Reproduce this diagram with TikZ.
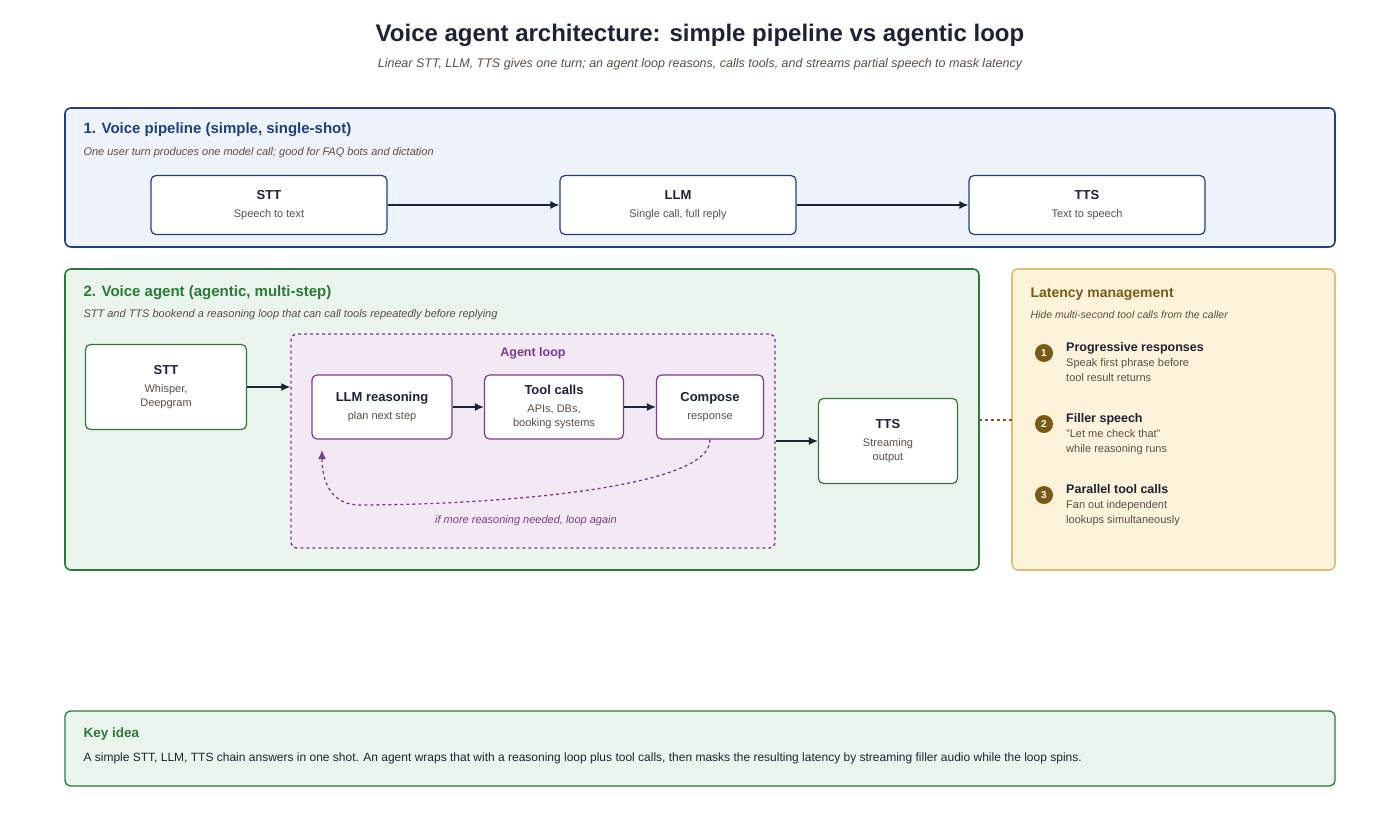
\documentclass[tikz,border=0pt]{standalone}
\usepackage{fontspec}
\setmainfont{Liberation Sans}
\usetikzlibrary{positioning,arrows.meta}
\definecolor{ink}{HTML}{1E2235}
\definecolor{muted}{HTML}{5A4E45}
\definecolor{pblue}{HTML}{1F3F7F}
\definecolor{pbluefill}{HTML}{EEF3FB}
\definecolor{pgreen}{HTML}{2B7A3B}
\definecolor{pgreenfill}{HTML}{EBF4EC}
\definecolor{ppurple}{HTML}{7B3A8F}
\definecolor{ppurplefill}{HTML}{F3E9F5}
\definecolor{pgold}{HTML}{DCC172}
\definecolor{pgoldfill}{HTML}{FDF3DA}
\definecolor{pbrown}{HTML}{7A5A14}
\tikzset{
  panel/.style={rounded corners=6pt, line width=1.6pt, inner sep=0pt},
  card/.style={draw, rounded corners=5pt, fill=white, line width=1.2pt, align=center, inner sep=0pt,
    text=muted, font=\fontsize{11}{14}\selectfont},
  head/.style={font=\bfseries\fontsize{15}{18}\selectfont, anchor=west},
  note/.style={font=\itshape\fontsize{11}{13}\selectfont, text=muted, anchor=west},
  flow/.style={-{Latex[length=9pt,width=8pt]}, line width=1.3pt, draw=ink},
  badge/.style={circle, fill=pbrown, text=white, font=\bfseries\fontsize{10}{10}\selectfont, minimum size=18pt, inner sep=0pt},
  item/.style={anchor=north west, align=left, font=\fontsize{11}{15}\selectfont, text=muted, inner sep=0pt},
}
\newcommand{\cardtext}[2]{\textcolor{ink}{\bfseries\fontsize{13}{16}\selectfont #1}\\[4pt]#2}
\begin{document}
\begin{tikzpicture}[x=1pt,y=-1pt]
\useasboundingbox (0,0) rectangle (1400,819);
% title
\node (title) at (700,35) {\bfseries\fontsize{24}{28}\selectfont\color{ink}Voice agent architecture: simple pipeline vs agentic loop};
\node (subtitle) at (700,64) {\itshape\fontsize{12.5}{15}\selectfont\color{muted}Linear STT, LLM, TTS gives one turn; an agent loop reasons, calls tools, and streams partial speech to mask latency};

% panel 1
\draw[panel, draw=pblue, fill=pbluefill] (65,108) rectangle (1335,247);
\node[head, text=pblue] (p1head) at (80,130) {1. Voice pipeline (simple, single-shot)};
\node[note] (p1note) at (80,153) {One user turn produces one model call; good for FAQ bots and dictation};
\node[card, draw=pblue, minimum width=236pt, minimum height=59pt] (stt) at (269,205) {\cardtext{STT}{Speech to text}};
\node[card, draw=pblue, minimum width=236pt, minimum height=59pt] (llm) at (678,205) {\cardtext{LLM}{Single call, full reply}};
\node[card, draw=pblue, minimum width=236pt, minimum height=59pt] (tts) at (1087,205) {\cardtext{TTS}{Text to speech}};
\draw[flow] (stt) -- (llm);
\draw[flow] (llm) -- (tts);

% panel 2
\draw[panel, draw=pgreen, fill=pgreenfill] (65,269) rectangle (979,570);
\node[head, text=pgreen] (p2head) at (80,293) {2. Voice agent (agentic, multi-step)};
\node[note] (p2note) at (80,315) {STT and TTS bookend a reasoning loop that can call tools repeatedly before replying};
\node[card, draw=pgreen, minimum width=161pt, minimum height=85pt] (stt2) at (166,387) {\cardtext{STT}{Whisper,\\Deepgram}};
\node[draw=ppurple, fill=ppurplefill, dashed, line width=1.4pt, rounded corners=6pt, minimum width=484pt, minimum height=214pt, inner sep=0pt] (loop) at (533,441) {};
\node[font=\bfseries\fontsize{12.5}{15}\selectfont, text=ppurple] (looplbl) at (533,353) {Agent loop};
\node[card, draw=ppurple, minimum width=140pt, minimum height=64pt] (reason) at (382,407) {\cardtext{LLM reasoning}{plan next step}};
\node[card, draw=ppurple, minimum width=139pt, minimum height=64pt] (tools) at (554,407) {\cardtext{Tool calls}{APIs, DBs,\\booking systems}};
\node[card, draw=ppurple, minimum width=107pt, minimum height=64pt] (compose) at (710,407) {\cardtext{Compose}{response}};
\node[card, draw=pgreen, minimum width=139pt, minimum height=85pt] (tts2) at (888,441) {\cardtext{TTS}{Streaming\\output}};
\coordinate (loopin) at (loop.west |- stt2.east);
\coordinate (loopout) at (loop.east |- tts2.west);
\coordinate (back) at (322,450);
\draw[flow] (stt2.east) -- (loopin);
\draw[flow] (reason) -- (tools);
\draw[flow] (tools) -- (compose);
\draw[flow] (loopout) -- (tts2.west);
\draw[-{Latex[length=9pt,width=8pt]}, dashed, line width=1.3pt, draw=ppurple] (compose.south) .. controls (712,490) and (480,505) .. (360,505) .. controls (330,505) and (322,480) .. (back);
\node[font=\itshape\fontsize{11}{13}\selectfont, text=ppurple] (looptxt) at (526,521) {if more reasoning needed, loop again};

% latency panel
\draw[panel, draw=pgold, fill=pgoldfill] (1012,269) rectangle (1335,570);
\node[head, text=pbrown, font=\bfseries\fontsize{14}{17}\selectfont] (lathead) at (1027,294) {Latency management};
\node[note, font=\itshape\fontsize{10.5}{13}\selectfont] (latnote) at (1027,315) {Hide multi-second tool calls from the caller};
\foreach \n/\y/\h/\desc in {1/353/Progressive responses/{Speak first phrase before\\tool result returns},
                        2/424/Filler speech/{"Let me check that"\\while reasoning runs},
                        3/495/Parallel tool calls/{Fan out independent\\lookups simultaneously}}{
  \node[badge] (s\n) at (1044,\y) {\n};
  \node[item] (t\n) at (1066,\y-11) {\textcolor{ink}{\bfseries\fontsize{12.5}{15}\selectfont\h}\\\desc};
}
\coordinate (latwest) at (1012,420);
\draw[dashed, line width=1.2pt, draw=pbrown] (979,420) -- (latwest);

% key idea
\draw[panel, line width=1.3pt, draw=pgreen, fill=pgreenfill] (65,711) rectangle (1335,786);
\node[head, text=pgreen, font=\bfseries\fontsize{13.5}{16}\selectfont] (keyhead) at (80,734) {Key idea};
\node[anchor=west, font=\fontsize{12}{14}\selectfont, text=ink] (keytext) at (80,758) {A simple STT, LLM, TTS chain answers in one shot. An agent wraps that with a reasoning loop plus tool calls, then masks the resulting latency by streaming filler audio while the loop spins.};
\end{tikzpicture}
\end{document}
